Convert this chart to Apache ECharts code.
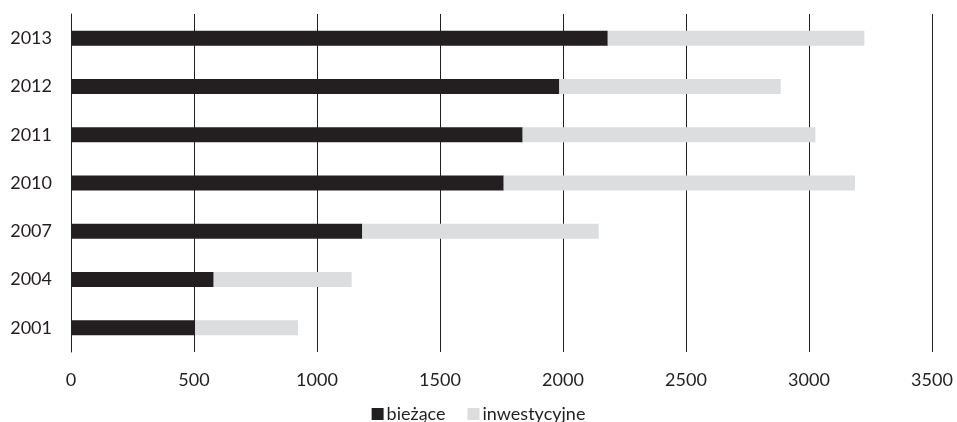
<!DOCTYPE html>
<html>
<head>
<meta charset="utf-8">
<script src="https://cdn.jsdelivr.net/npm/echarts@6/dist/echarts.min.js"></script>
<style>
  html, body { margin: 0; padding: 0; background: #ffffff; }
  #chart { width: 957px; height: 422px; }
</style>
</head>
<body>
<div id="chart"></div>
<script>
// Years shown on the category axis (bottom to top)
const years = ['2001', '2004', '2007', '2010', '2011', '2012', '2013'];
// Current expenditure
const biezace = [505, 580, 1184, 1759, 1836, 1985, 2182];
// Investment expenditure
const inwestycyjne = [418, 561, 961, 1428, 1190, 900, 1043];
// Value axis ticks
const xTicks = [0, 500, 1000, 1500, 2000, 2500, 3000, 3500];

const FONT = 'Lato, "Open Sans", sans-serif';
const INK = '#231f20';
const chart = echarts.init(document.getElementById('chart'), null, { renderer: 'canvas' });

chart.setOption({
  animation: false,
  backgroundColor: '#ffffff',
  grid: { left: 71, right: 25, top: 14, bottom: 70, containLabel: false },
  legend: {
    top: 400,
    left: 'center',
    itemWidth: 12,
    itemHeight: 12,
    itemGap: 22,
    icon: 'rect',
    textStyle: { fontFamily: FONT, fontSize: 18, color: INK, padding: [0, 0, 0, -2] },
    data: ['bieżące', 'inwestycyjne']
  },
  xAxis: {
    type: 'value',
    min: xTicks[0],
    max: xTicks[xTicks.length - 1],
    interval: 500,
    axisLine: { show: false },
    axisTick: { show: false },
    axisLabel: {
      fontFamily: FONT, fontSize: 18, color: INK, margin: 19,
      formatter: (v) => String(v)
    },
    splitLine: { show: true, lineStyle: { color: INK, width: 1 } }
  },
  yAxis: {
    type: 'category',
    data: years,
    axisLine: { show: true, lineStyle: { color: INK, width: 1 } },
    axisTick: { show: false },
    axisLabel: { fontFamily: FONT, fontSize: 18, color: INK, margin: 19 }
  },
  series: [
    {
      name: 'bieżące',
      type: 'bar',
      stack: 'total',
      barWidth: 15,
      itemStyle: { color: INK },
      data: biezace
    },
    {
      name: 'inwestycyjne',
      type: 'bar',
      stack: 'total',
      barWidth: 15,
      itemStyle: { color: '#dcddde' },
      data: inwestycyjne
    }
  ]
});
</script>
</body>
</html>
